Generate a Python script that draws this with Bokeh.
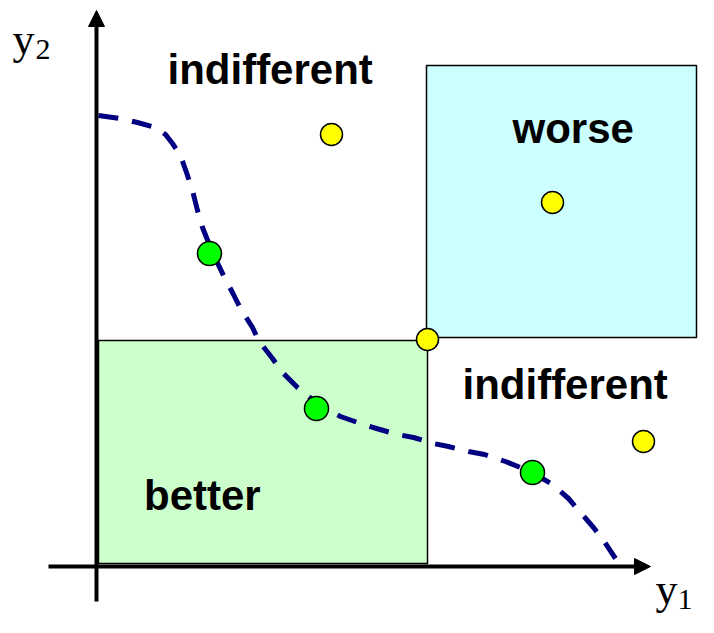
from bokeh.plotting import figure
from bokeh.models import Range1d, Arrow, NormalHead, ColumnDataSource
from bokeh.core.properties import value
from bokeh.embed import file_html
from bokeh.resources import INLINE

# ---- data (objective space y1, y2; arbitrary units) ----
front_y1 = [0.1, 2.2, 4.0, 5.8, 6.8, 7.5, 8.3, 8.9, 9.5, 10.0, 10.5, 11.5, 12.6, 13.6,
            14.3, 15.5, 16.1, 17.5, 18.5, 20.0, 22.1, 24.3, 26.3, 27.9, 30.0, 31.6,
            33.6, 35.1, 37.1, 38.7, 40.8, 43.3, 45.5, 47.1, 48.3, 49.6, 50.6, 51.8]
front_y2 = [45.1, 44.8, 44.4, 43.9, 43.2, 42.3, 41.1, 39.4, 37.6, 35.6, 33.9, 31.4, 29.1, 27.2,
            25.8, 23.9, 22.6, 20.8, 19.4, 17.9, 16.2, 15.0, 14.3, 13.8, 13.2, 12.9,
            12.3, 12.0, 11.5, 11.2, 10.5, 9.5, 8.2, 6.8, 5.4, 3.9, 2.6, 0.8]

green_y1 = [11.2, 21.9, 43.5]
green_y2 = [31.3, 15.8, 9.4]

yellow_y1 = [23.4, 45.5, 33.0, 54.6]
yellow_y2 = [43.2, 36.4, 22.7, 12.5]

# reference solution (corner of the two boxes)
ref_y1 = 33.0
ref_y2 = 22.7

region_labels = ["indifferent", "worse", "indifferent", "better"]
region_x = [7.0, 41.5, 36.5, 4.65]
region_y = [49.7, 43.8, 18.2, 7.1]

p = figure(width=698, height=617, output_backend="svg", toolbar_location=None,
           x_range=Range1d(-9.7, 60.1), y_range=Range1d(-5.1, 56.6),
           min_border=0, min_border_left=0, min_border_right=0,
           min_border_top=0, min_border_bottom=0)
p.axis.visible = False
p.grid.visible = False
p.outline_line_color = None
p.background_fill_color = "white"
p.border_fill_color = "white"

# boxes
p.quad(left=[0.1], right=[ref_y1], bottom=[0.3], top=[ref_y2 - 0.1],
       fill_color="#CCFFCC", line_color="black", line_width=1.5)
p.quad(left=[ref_y1 - 0.1], right=[59.9], bottom=[ref_y2 + 0.2], top=[50.1],
       fill_color="#CCFFFF", line_color="black", line_width=1.5)

# Pareto front (dashed)
p.line(front_y1, front_y2, line_color="#000080", line_width=5, line_dash="20 14")

# axes with arrows
head_x = NormalHead(size=16, fill_color="black", line_color="black", line_width=1)
head_y = NormalHead(size=16, fill_color="black", line_color="black", line_width=1)
p.add_layout(Arrow(end=head_x, x_start=-4.9, y_start=0.0, x_end=55.3, y_end=0.0,
                   line_color="black", line_width=4))
p.add_layout(Arrow(end=head_y, x_start=-0.1, y_start=-3.5, x_end=-0.1, y_end=55.6,
                   line_color="black", line_width=4))

# points
p.scatter(yellow_y1, yellow_y2, size=22, fill_color="#FFFF00", line_color="black", line_width=1.5)
p.scatter(green_y1, green_y2, size=24, fill_color="#00FF00", line_color="black", line_width=1.5)

# region labels
src = ColumnDataSource(dict(x=region_x, y=region_y, t=region_labels))
p.text(x="x", y="y", text="t", source=src, text_font=value("Liberation Sans"),
       text_font_style="bold", text_font_size="42px", text_color="black",
       text_align="left", text_baseline="alphabetic")

# axis labels y1 / y2 with subscripts
p.text(x=[-8.5, 55.8], y=[52.7, -2.3], text=["y", "y"], text_font=value("Liberation Serif"),
       text_font_size="44px", text_color="black", text_align="left", text_baseline="alphabetic")
p.text(x=[-6.2, 58.0], y=[51.7, -3.3], text=["2", "1"], text_font=value("Liberation Serif"),
       text_font_size="30px", text_color="black", text_align="left", text_baseline="alphabetic")

open("out.html", "w").write(file_html(p, INLINE))
